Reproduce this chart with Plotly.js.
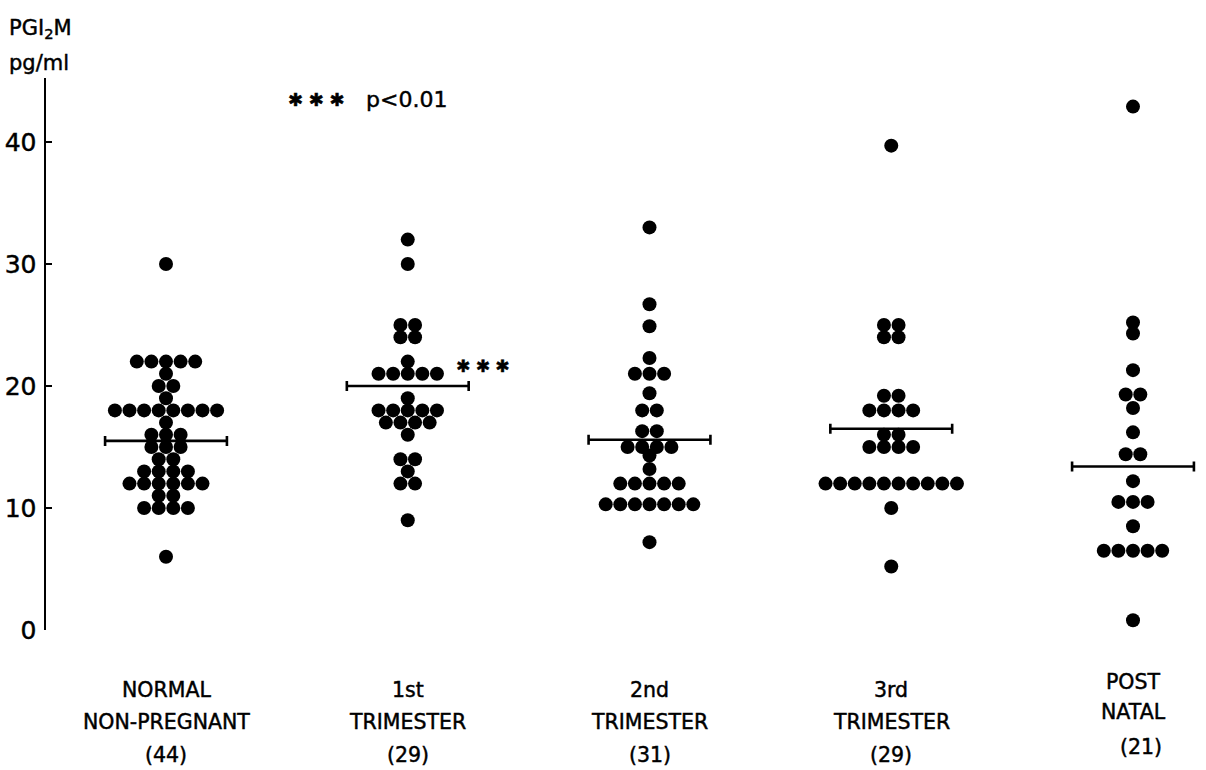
<!DOCTYPE html>
<html><head><meta charset="utf-8">
<script src="https://cdn.plot.ly/plotly-3.0.1.min.js"></script>
<style>
html,body{margin:0;padding:0;background:#fff}
#chart{width:1206px;height:770px}
#chart text{stroke:#000;stroke-width:0.45px}
</style>
</head><body><div id="chart"></div>
<script>
// ---- data ----
const categories = ['NORMAL NON-PREGNANT', '1st TRIMESTER', '2nd TRIMESTER', '3rd TRIMESTER', 'POST NATAL'];
const labelLine1 = ['NORMAL', '1st', '2nd', '3rd', 'POST'];
const labelLine2 = ['NON-PREGNANT', 'TRIMESTER', 'TRIMESTER', 'TRIMESTER', 'NATAL'];
const groupN = [44, 29, 31, 29, 21];

const normalValues = [30,
  22, 22, 22, 22, 22,
  21,
  20, 20,
  19,
  18, 18, 18, 18, 18, 18, 18, 18,
  17,
  16, 16, 16,
  15, 15, 15,
  14, 14,
  13, 13, 13, 13,
  12, 12, 12, 12, 12, 12,
  11, 11,
  10, 10, 10, 10,
  6];
const firstTriValues = [32, 30,
  25, 25,
  24, 24,
  22,
  21, 21, 21, 21, 21,
  19,
  18, 18, 18, 18, 18,
  17, 17, 17, 17,
  16,
  14, 14,
  13,
  12, 12,
  9];
const secondTriValues = [33, 26.7, 24.9, 22.3,
  21, 21, 21,
  19.4,
  18, 18,
  16.3, 16.3,
  15, 15, 15, 15,
  14.3,
  13.2,
  12, 12, 12, 12, 12,
  10.3, 10.3, 10.3, 10.3, 10.3, 10.3, 10.3,
  7.2];
const thirdTriValues = [39.7,
  25, 25,
  24, 24,
  19.2, 19.2,
  18, 18, 18, 18,
  16, 16,
  15, 15, 15, 15,
  12, 12, 12, 12, 12, 12, 12, 12, 12, 12,
  10,
  5.2];
const postNatalValues = [42.9,
  25.2, 24.3, 21.3,
  19.3, 19.3,
  18.2, 16.2,
  14.4, 14.4,
  12.2,
  10.5, 10.5, 10.5,
  8.5,
  6.5, 6.5, 6.5, 6.5, 6.5,
  0.8];
const groupValues = [normalValues, firstTriValues, secondTriValues, thirdTriValues, postNatalValues];
const meanValues = [15.5, 20.0, 15.6, 16.5, 13.4];
const yTickVals = [0, 10, 20, 30, 40];
const yTickText = ['0', '10', '20', '30', '40'];
const pStars = '\u2731 \u2731 \u2731';
const pText = 'p<0.01';
const sigMark = '\u2731 \u2731 \u2731';

// ---- layout helpers (pixel geometry) ----
const X0PX = 166, PXPERX = 241.75;
const xAt = px => (px - X0PX) / PXPERX;
const TOP = 78, BOTTOM = 630;
const yPaper = py => (BOTTOM - py) / (BOTTOM - TOP);
const DOT_STEP = 14.6 / PXPERX;

const FONT = 'DejaVu Sans, Arial, sans-serif';

// beeswarm: dots sharing a value spread side by side around the group centre
const xs = [], ys = [];
groupValues.forEach((vals, gi) => {
  const counts = {};
  vals.forEach(v => { counts[v] = (counts[v] || 0) + 1; });
  const seen = {};
  vals.forEach(v => {
    const k = counts[v];
    const j = seen[v] = (seen[v] === undefined ? 0 : seen[v] + 1);
    xs.push(gi + (j - (k - 1) / 2) * DOT_STEP);
    ys.push(v);
  });
});

const dots = {
  type: 'scatter', mode: 'markers', x: xs, y: ys,
  marker: { size: 14, color: '#000' },
  cliponaxis: false, hoverinfo: 'y', showlegend: false
};
const means = {
  type: 'scatter', mode: 'markers',
  x: categories.map((c, i) => i), y: meanValues,
  marker: { size: 1, color: 'rgba(0,0,0,0)' },
  error_x: { type: 'constant', value: 0.252, thickness: 2.6, width: 5, color: '#000' },
  cliponaxis: false, hoverinfo: 'y', showlegend: false
};

const annotations = [];
categories.forEach((c, i) => {
  const post = i === 4;
  const ys3 = post ? [682, 712, 747] : [690, 722, 755];
  const lines = [labelLine1[i], labelLine2[i], '(' + groupN[i] + ')'];
  lines.forEach((t, li) => {
    annotations.push({
      xref: 'x', yref: 'paper', x: i + (post && li === 2 ? xAt(1141) - xAt(1133) : 0),
      y: yPaper(ys3[li]), text: t, showarrow: false,
      xanchor: 'center', yanchor: 'middle',
      font: { family: FONT, size: 20.5, color: '#000' }
    });
  });
});
annotations.push({
  xref: 'paper', yref: 'paper', x: -39 / 1154, y: yPaper(29),
  text: 'PGI<sub>2</sub>M', showarrow: false, xanchor: 'left', yanchor: 'middle',
  font: { family: FONT, size: 21, color: '#000' }
});
annotations.push({
  xref: 'paper', yref: 'paper', x: -39 / 1154, y: yPaper(63),
  text: 'pg/ml', showarrow: false, xanchor: 'left', yanchor: 'middle',
  font: { family: FONT, size: 21, color: '#000' }
});
annotations.push({
  xref: 'x', yref: 'paper', x: xAt(286), y: yPaper(100),
  text: pStars, showarrow: false, xanchor: 'left', yanchor: 'middle',
  font: { family: 'DejaVu Sans', size: 18, color: '#000' }
});
annotations.push({
  xref: 'x', yref: 'paper', x: xAt(364), y: yPaper(100),
  text: pText, showarrow: false, xanchor: 'left', yanchor: 'middle',
  font: { family: FONT, size: 22, color: '#000' }
});
annotations.push({
  xref: 'x', yref: 'y', x: xAt(454), y: 21.6,
  text: sigMark, showarrow: false, xanchor: 'left', yanchor: 'middle',
  font: { family: 'DejaVu Sans', size: 17, color: '#000' }
});

const layout = {
  width: 1206, height: 770,
  margin: { l: 46, r: 6, t: TOP, b: 770 - BOTTOM, pad: 0 },
  paper_bgcolor: '#fff', plot_bgcolor: '#fff',
  showlegend: false,
  xaxis: {
    range: [xAt(46), xAt(1200)], showgrid: false, zeroline: false,
    showline: false, showticklabels: false, ticks: ''
  },
  yaxis: {
    range: [0, (BOTTOM - TOP) / 12.2], showgrid: false, zeroline: false,
    showline: true, linecolor: '#000', linewidth: 2.5,
    ticks: 'inside', ticklen: 6, tickwidth: 2, tickcolor: '#000',
    tickvals: yTickVals, ticktext: yTickText,
    tickfont: { family: FONT, size: 25, color: '#000' },
    ticklabelstandoff: 2
  },
  annotations: annotations
};

Plotly.newPlot('chart', [dots, means], layout, { displayModeBar: false, staticPlot: true });
</script>
</body></html>
